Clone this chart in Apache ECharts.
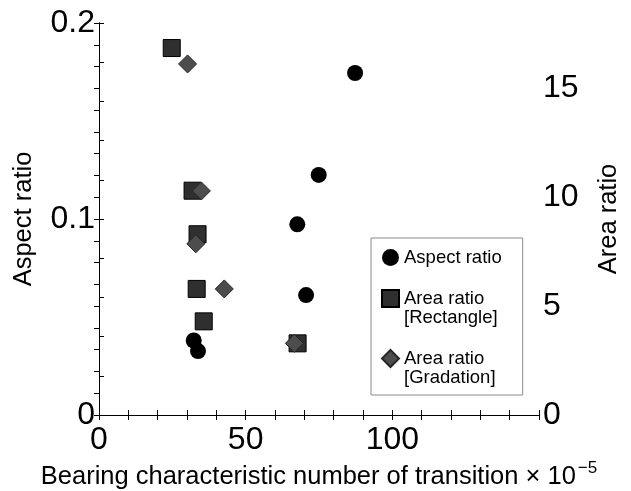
<!DOCTYPE html>
<html>
<head>
<meta charset="utf-8">
<script src="https://cdn.jsdelivr.net/npm/echarts@6/dist/echarts.min.js"></script>
<style>
html,body{margin:0;padding:0;background:#fff;}
#chart{width:631px;height:491px;}
</style>
</head>
<body>
<div id="chart"></div>
<script>
// Data
const aspectX = [87.3, 74.9, 67.6, 70.6, 32.3, 33.75];
const aspectY = [0.1745, 0.1225, 0.0973, 0.0612, 0.0380, 0.0326];
const rectX = [24.8, 31.9, 33.6, 33.3, 35.7, 67.7];
const rectY = [16.85, 10.30, 8.30, 5.79, 4.30, 3.29];
const gradX = [30.2, 34.9, 33.0, 42.7, 66.6];
const gradY = [16.12, 10.29, 7.86, 5.79, 3.29];
const xTickLabels = [0, 50, 100];
const leftTickLabels = [0, 0.1, 0.2];
const rightTickLabels = [0, 5, 10, 15];
const seriesNames = ['Aspect ratio', 'Area ratio\n[Rectangle]', 'Area ratio\n[Gradation]'];

const zip = (a, b) => a.map((v, i) => [v, b[i]]);
const near = (v, list) => list.some(t => Math.abs(v - t) < 1e-9);
const FONT = '"Liberation Sans", Arial, sans-serif';

const chart = echarts.init(document.getElementById('chart'), null, {renderer: 'canvas'});
chart.setOption({
  backgroundColor: '#ffffff',
  animation: false,
  textStyle: {fontFamily: FONT, color: '#000'},
  grid: {left: 99, right: 92, top: 23, bottom: 76, containLabel: false, outerBoundsMode: 'none'},
  legend: {
    orient: 'vertical',
    left: 371,
    top: 238,
    padding: [10, 21, 8, 10],
    itemGap: 3,
    itemWidth: 17,
    itemHeight: 17,
    borderColor: '#8a8a8a',
    borderWidth: 1,
    backgroundColor: '#fff',
    data: [
      {name: seriesNames[0], icon: 'circle'},
      {name: seriesNames[1], icon: 'rect'},
      {name: seriesNames[2], icon: 'diamond'}
    ],
    formatter: function (name) {
      const parts = name.split('\n');
      if (parts.length === 1) return '{t|' + name + '}';
      return '{t| }\n{t|' + parts[0] + '}\n{t|' + parts[1] + '}';
    },
    textStyle: {
      fontFamily: FONT,
      color: '#000',
      rich: {t: {fontSize: 18.5, lineHeight: 19, height: 19, fontFamily: FONT, color: '#000'}}
    }
  },
  xAxis: [{
    type: 'value',
    min: 0, max: 150, interval: 10,
    position: 'bottom',
    name: '{a|Bearing characteristic number of transition × 10}{s|−5}',
    nameLocation: 'middle',
    nameGap: 45,
    nameMoveOverlap: false,
    nameTextStyle: {
      rich: {
        a: {fontSize: 25.5, fontFamily: FONT, color: '#000'},
        s: {fontSize: 17, fontFamily: FONT, color: '#000', verticalAlign: 'top', padding: [0, 0, 16, 2]}
      }
    },
    axisLine: {show: true, lineStyle: {color: '#000', width: 1}},
    axisTick: {show: true, inside: true, length: 5, lineStyle: {color: '#000'}},
    axisLabel: {
      fontSize: 32, fontFamily: FONT, color: '#000', margin: 9,
      formatter: v => near(v, xTickLabels) ? String(v) : ''
    },
    splitLine: {show: false}
  }, {
    type: 'value',
    min: 0, max: 150, interval: 10,
    position: 'top',
    axisLine: {show: true, lineStyle: {color: '#000', width: 1}},
    axisTick: {show: true, inside: true, length: 5, lineStyle: {color: '#000'}},
    axisLabel: {show: false},
    splitLine: {show: false}
  }],
  yAxis: [{
    type: 'value',
    min: 0, max: 0.2, interval: 0.02,
    position: 'left',
    name: 'Aspect ratio',
    nameLocation: 'middle',
    nameRotate: 90,
    nameGap: 62,
    nameMoveOverlap: false,
    nameTextStyle: {fontSize: 25.5, fontFamily: FONT, color: '#000'},
    axisLine: {show: true, lineStyle: {color: '#000', width: 1}},
    axisTick: {show: true, inside: true, length: 5, lineStyle: {color: '#000'}},
    axisLabel: {
      fontSize: 32, fontFamily: FONT, color: '#000', margin: 4,
      formatter: v => near(v, leftTickLabels) ? String(+v.toFixed(2)) : ''
    },
    splitLine: {show: false}
  }, {
    type: 'value',
    min: 0, max: 18, interval: 1,
    position: 'right',
    name: 'Area ratio',
    nameLocation: 'middle',
    nameRotate: 90,
    nameGap: 57,
    nameMoveOverlap: false,
    nameTextStyle: {fontSize: 25.5, fontFamily: FONT, color: '#000'},
    axisLine: {show: true, lineStyle: {color: '#000', width: 1}},
    axisTick: {show: true, inside: true, length: 5, lineStyle: {color: '#000'}},
    axisLabel: {
      fontSize: 32, fontFamily: FONT, color: '#000', margin: 4,
      formatter: v => near(v, rightTickLabels) ? String(v) : ''
    },
    splitLine: {show: false}
  }],
  series: [{
    name: seriesNames[0],
    type: 'scatter',
    xAxisIndex: 0, yAxisIndex: 0,
    symbol: 'circle',
    symbolSize: 16,
    itemStyle: {color: '#000', opacity: 1},
    data: zip(aspectX, aspectY)
  }, {
    name: seriesNames[1],
    type: 'scatter',
    xAxisIndex: 0, yAxisIndex: 1,
    symbol: 'rect',
    symbolSize: 17,
    itemStyle: {color: '#2f2f2f', borderColor: '#000', borderWidth: 1, opacity: 1},
    data: zip(rectX, rectY)
  }, {
    name: seriesNames[2],
    type: 'scatter',
    xAxisIndex: 0, yAxisIndex: 1,
    symbol: 'diamond',
    symbolSize: 18,
    itemStyle: {color: '#4d4d4d', borderColor: '#262626', borderWidth: 1, opacity: 1},
    data: zip(gradX, gradY)
  }]
});
</script>
</body>
</html>
